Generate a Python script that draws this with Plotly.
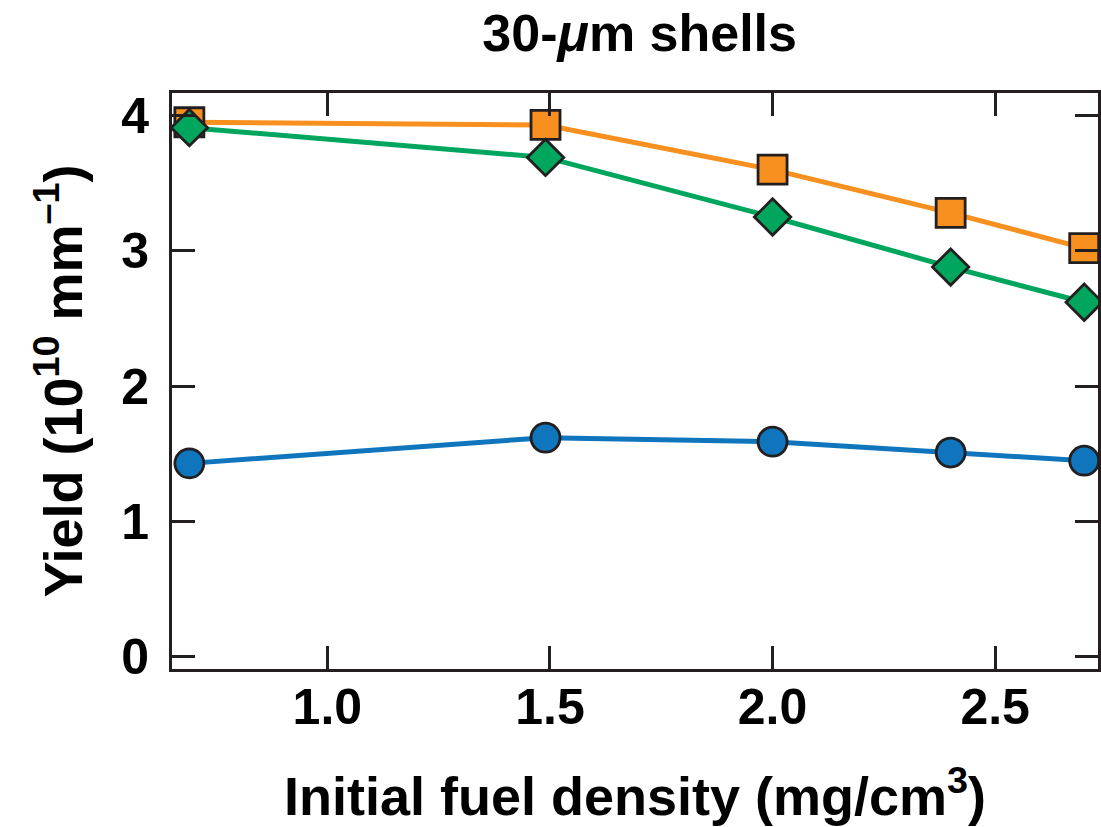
import plotly.graph_objects as go

density = [0.69, 1.49, 2.0, 2.4, 2.7]
yield_orange = [3.95, 3.93, 3.60, 3.28, 3.02]
yield_green = [3.91, 3.69, 3.25, 2.88, 2.62]
yield_blue = [1.43, 1.62, 1.59, 1.51, 1.45]
x_ticks = [1.0, 1.5, 2.0, 2.5]
x_ticklabels = ["1.0", "1.5", "2.0", "2.5"]
y_ticks = [0, 1, 2, 3, 4]

dark = "#231f20"
font_family = "Liberation Sans, Arial, sans-serif"

fig = go.Figure()
series = [
    (yield_blue, "#0f75bc", "circle", 29),
    (yield_orange, "#f7901e", "square", 29),
    (yield_green, "#00a65d", "diamond", 28),
]
for ys, col, sym, sz in series:
    fig.add_trace(go.Scatter(
        x=density, y=ys, mode="lines+markers",
        line=dict(color=col, width=5),
        marker=dict(symbol=sym, size=sz, color=col, line=dict(color=dark, width=2.8)),
        showlegend=False, cliponaxis=False,
    ))

fig.update_layout(
    width=1101, height=827,
    margin=dict(l=172, r=0, t=93, b=158),
    paper_bgcolor="white", plot_bgcolor="white",
    font=dict(family=font_family, color="black", size=50),
    title=dict(text="<b>30-<i>μ</i>m shells</b>", x=0.581, xanchor="center",
               y=0.96, yanchor="middle", font=dict(size=52)),
)
fig.update_xaxes(
    range=[0.651, 2.731], tickvals=x_ticks, ticktext=[f"<b>{t}</b>" for t in x_ticklabels],
    ticks="inside", ticklen=23, tickwidth=2.5, tickcolor=dark,
    showline=True, linecolor=dark, linewidth=3, mirror="ticks",
    showgrid=False, zeroline=False, ticklabelstandoff=-8,
    title=dict(text="<b>Initial fuel density (mg/cm<sup>3</sup>)</b>", font=dict(size=54), standoff=44),
)
fig.update_yaxes(
    range=[-0.089, 4.166], tickvals=y_ticks, ticktext=[f"<b>{t}</b>" for t in y_ticks],
    ticks="inside", ticklen=23, tickwidth=2.5, tickcolor=dark,
    showline=True, linecolor=dark, linewidth=3, mirror="ticks",
    showgrid=False, zeroline=False, ticklabelstandoff=10,
    title=dict(text="<b>Yield (10<sup>10</sup> mm<sup>–1</sup>)</b>", font=dict(size=54), standoff=22),
)

fig.write_html("out.html")
